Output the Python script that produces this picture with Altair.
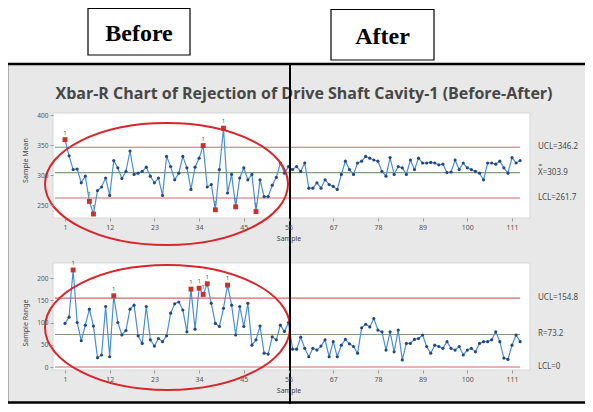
import altair as alt
import pandas as pd

# ---------------- data ----------------
samples = list(range(1, 114))
xbar = [359, 332, 309, 310, 287, 298, 256, 235, 274, 280,
        295, 266, 324, 312, 294, 306, 340, 301, 303, 306,
        313, 298, 287, 295, 266, 331, 314, 292, 303, 331,
        312, 276, 313, 328, 349, 280, 284, 242, 309, 378,
        270, 301, 247, 295, 312, 292, 301, 239, 292, 264,
        264, 283, 296, 320, 303, 314, 309, 314, 306, 320,
        278, 278, 287, 278, 292, 284, 281, 276, 301, 323,
        309, 301, 320, 323, 331, 328, 325, 323, 306, 298,
        329, 301, 314, 312, 301, 325, 309, 328, 320, 320,
        321, 320, 317, 318, 304, 305, 325, 309, 320, 312,
        309, 306, 303, 292, 320, 320, 318, 323, 312, 303,
        329, 320, 324]
xbar_out = [1, 7, 8, 35, 38, 40, 43, 48]
rng = [98, 112, 218, 100, 59, 94, 130, 92, 21, 27,
       136, 23, 160, 100, 72, 82, 130, 139, 70, 53,
       136, 61, 47, 64, 57, 70, 121, 142, 146, 128,
       79, 175, 85, 177, 163, 187, 143, 98, 91, 132,
       184, 139, 72, 136, 91, 143, 49, 61, 92, 31,
       29, 68, 61, 94, 80, 100, 40, 40, 67, 42,
       23, 42, 38, 47, 61, 23, 57, 23, 49, 62,
       52, 46, 31, 88, 96, 90, 109, 83, 79, 38,
       79, 34, 83, 16, 53, 53, 62, 64, 72, 46,
       31, 49, 46, 42, 57, 42, 38, 46, 27, 38,
       42, 34, 53, 57, 57, 61, 79, 57, 20, 17,
       49, 72, 57]
rng_out = [3, 13, 32, 34, 35, 36, 41]

x_ticks = [1, 12, 23, 34, 45, 56, 67, 78, 89, 100, 111]
xbar_ticks = [250, 300, 350, 400]
rng_ticks = [0, 50, 100, 150, 200]
limit_kind = ["UCL", "CL", "LCL"]
xbar_limits = [346.2, 303.9, 261.7]
xbar_limit_labels = ["UCL=346.2", "X\u033f=303.9", "LCL=261.7"]
rng_limits = [154.8, 73.2, 0]
rng_limit_labels = ["UCL=154.8", "R\u0304=73.2", "LCL=0"]

title_text = "Xbar-R Chart of Rejection of Drive Shaft Cavity-1 (Before-After)"

# ---------------- layout (canvas px) ----------------
W, H = 577, 396
PL, PR = 45, 522
TOP_T, TOP_B = 105, 210
BOT_T, BOT_B = 255, 362
X_RANGE = [57, 504]
FONT = "Noto Sans"
LINE_C = "#4a8fd4"
PT_C = "#24477f"
RED_C = "#c8322b"

dummy = pd.DataFrame({"k": [0]})


def deco_rect(x, x2, y, y2, **kw):
    return alt.Chart(dummy).mark_rect(**kw).encode(
        x=alt.value(x), x2=alt.value(x2), y=alt.value(y), y2=alt.value(y2))


def deco_text(x, y, txt, **kw):
    return alt.Chart(dummy).mark_text(text=txt, **kw).encode(
        x=alt.value(x), y=alt.value(y))


def panel(values, out_idx, ticks, domain, yrange, ytitle, x_off, lim_vals, lim_labels):
    df = pd.DataFrame({"sample": samples, "val": values})
    df["flag"] = [1 if s in out_idx else 0 for s in samples]
    lim = pd.DataFrame({"val": lim_vals, "kind": limit_kind, "label": lim_labels})
    xs = alt.Scale(domain=[1, 111], range=X_RANGE, nice=False, zero=False)
    ys = alt.Scale(domain=domain, range=yrange, nice=False, zero=False)
    xenc = alt.X("sample:Q", scale=xs, axis=alt.Axis(
        values=x_ticks, orient="bottom", offset=x_off, title="Sample",
        titleFont=FONT, titleFontSize=7, titleFontWeight="normal", titleColor="#444",
        titlePadding=4, labelFont=FONT, labelFontSize=7, labelColor="#555",
        labelPadding=2, tickSize=3, tickColor="#999", domain=False, grid=False,
        labelFlush=False, zindex=2))
    yenc = alt.Y("val:Q", scale=ys, axis=alt.Axis(
        values=ticks, orient="left", offset=-PL, title=ytitle,
        titleFont=FONT, titleFontSize=7, titleFontWeight="normal", titleColor="#444",
        titlePadding=8, labelFont=FONT, labelFontSize=6.5, labelColor="#555",
        labelPadding=2, tickSize=3, tickColor="#999", domain=False, grid=False,
        zindex=2))
    rules = alt.Chart(lim).mark_rule(strokeWidth=1.1).encode(
        x=alt.value(PL + 2), x2=alt.value(512), y=yenc,
        color=alt.Color("kind:N", legend=None, scale=alt.Scale(
            domain=limit_kind, range=["#cf6b6b", "#7f9c76", "#cf6b6b"])))
    labels = alt.Chart(lim).mark_text(align="left", baseline="middle", font=FONT,
                                      fontSize=8, color="#4a4a4a").encode(
        x=alt.value(PR + 8), y=yenc, text="label:N")
    base = alt.Chart(df)
    line = base.mark_line(color=LINE_C, strokeWidth=1.2).encode(x=xenc, y=yenc)
    pts = base.mark_point(filled=True, color=PT_C, size=10, opacity=1).encode(x=xenc, y=yenc)
    red = base.transform_filter("datum.flag == 1").mark_point(
        filled=True, shape="square", color=RED_C, size=24, opacity=1).encode(x=xenc, y=yenc)
    ones = base.transform_filter("datum.flag == 1").mark_text(
        text="1", dy=-7, fontSize=6, font=FONT, color="#555").encode(x=xenc, y=yenc)
    return alt.layer(rules, line, pts, red, ones, labels)


top = panel(xbar, xbar_out, xbar_ticks, [250, 400], [197, 107], "Sample Mean",
            TOP_B - H, xbar_limits, xbar_limit_labels)
bot = panel(rng, rng_out, rng_ticks, [0, 200], [359, 270], "Sample Range",
            BOT_B - H, rng_limits, rng_limit_labels)

# ---------------- decorations ----------------
frame = deco_rect(-1, 590, 56, 394.5, fill="#e8e8e8", stroke="black", strokeWidth=2.5)
white_top = deco_rect(PL, PR, TOP_T, TOP_B, fill="white", stroke="#cfcfcf", strokeWidth=0.8)
white_bot = deco_rect(PL, PR, BOT_T, BOT_B, fill="white", stroke="#cfcfcf", strokeWidth=0.8)
title = deco_text(296, 86, title_text, font="Open Sans", fontSize=16, fontWeight="bold",
                  color="#474747", align="center", baseline="middle")

k = 0.5523


def ellipse_path(ry):
    a = k * ry
    return (f"M 1 0 C 1 {a:.4f} {k} {ry} 0 {ry} "
            f"C {-k} {ry} -1 {a:.4f} -1 0 "
            f"C -1 {-a:.4f} {-k} {-ry} 0 {-ry} "
            f"C {k} {-ry} 1 {-a:.4f} 1 0 Z")


def ellipse(cx, cy, rx, ry):
    return alt.Chart(dummy).mark_point(
        shape=ellipse_path(ry / rx), filled=False, stroke="#d8262a", strokeWidth=2,
        size=(2 * rx) ** 2, opacity=1).encode(x=alt.value(cx), y=alt.value(cy))


ell_top = ellipse(158.5, 176, 121.5, 61)
ell_bot = ellipse(159.5, 319.5, 122.5, 62.5)
vline = alt.Chart(dummy).mark_rule(color="black", strokeWidth=2).encode(
    x=alt.value(282), y=alt.value(56), y2=alt.value(396))

box_before = deco_rect(80, 182, 0.5, 47, fill="white", stroke="black", strokeWidth=1.2)
box_after = deco_rect(323, 426, 1.5, 52, fill="white", stroke="black", strokeWidth=1.2)
txt_before = deco_text(131, 26, "Before", font="Liberation Serif", fontSize=24,
                       fontWeight="bold", color="black", align="center", baseline="middle")
txt_after = deco_text(374.5, 29, "After", font="Liberation Serif", fontSize=24,
                      fontWeight="bold", color="black", align="center", baseline="middle")

chart = alt.layer(
    frame, white_top, white_bot, title, top, bot, ell_top, ell_bot, vline,
    box_before, box_after, txt_before, txt_after
).resolve_scale(x="independent", y="independent", color="independent").resolve_axis(
    x="independent", y="independent"
).properties(
    width=W, height=H, autosize=alt.AutoSizeParams(type="none"), padding=0,
    background="white"
).configure_view(strokeWidth=0)

chart.save("out.html", embed_options={"renderer": "svg", "actions": False})
